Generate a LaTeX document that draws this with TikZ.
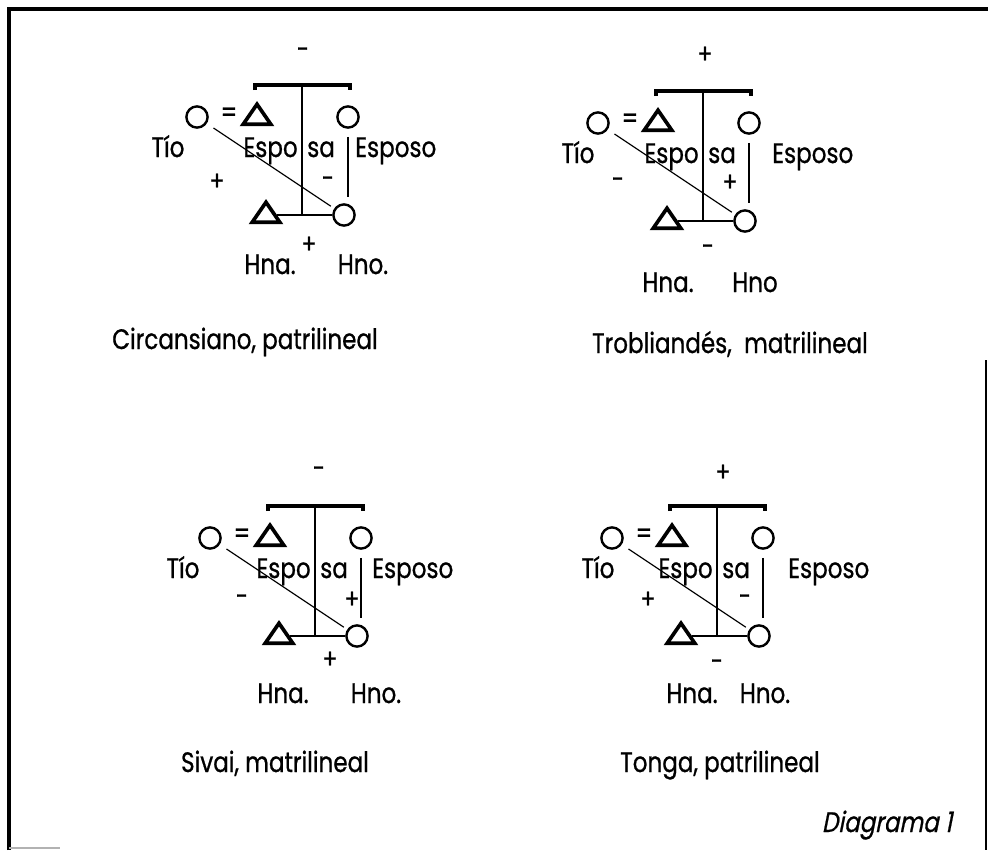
\documentclass[tikz,border=0pt]{standalone}
\usepackage{fontspec}
\setmainfont[FakeStretch=0.82,FakeBold=0.8]{Poppins}
\newfontfamily\italica[FakeStretch=0.82,FakeSlant=0.2,FakeBold=0.8]{Poppins}
\usetikzlibrary{shapes.geometric}

\tikzset{
  mujer/.style={circle, draw, line width=1.7pt, minimum size=0.53cm, inner sep=0pt},
  varon/.style={isosceles triangle, isosceles triangle stretches, shape border rotate=90,
    draw, line width=2.6pt, minimum width=0.69cm, minimum height=0.5cm, inner sep=0pt},
  texto/.style={font=\fontsize{20}{22}\selectfont, inner sep=0pt, anchor=base},
  signo/.style={font=\fontsize{19}{20}\selectfont, inner sep=0pt},
  corchete/.style={line width=2.2pt},
  linea/.style={line width=1.1pt},
}

% #1 = x de Tío, #2 = borde izquierdo de Esposo
\newcommand{\parentesco}[2]{%
  \coordinate (top) at (0,0);
  \node[mujer] (tio) at (-105,32) {};
  \node[texto] (igual) at (-73,37) {=};
  \node[varon] (esposa) at (-45,32) {};
  \node[mujer] (esposo) at (46,32) {};
  \node[varon] (hna) at (-36,130) {};
  \node[mujer] (hno) at (42,130) {};
  \node[texto] (ltio) at (#1,72) {Tío};
  \node[texto, anchor=base east] (lespo) at (-4,72) {Espo};
  \node[texto, anchor=base west] (lsa) at (5,72) {sa};
  \node[texto, anchor=base west] (lesposo) at (#2,72) {Esposo};
  \draw[corchete] ([xshift=-0.05cm,yshift=-0.13cm]esposa |- top) -- ([xshift=-0.05cm]esposa |- top)
    -- ([xshift=0.05cm]esposo |- top) -- ([xshift=0.05cm,yshift=-0.13cm]esposo |- top);
  \draw[linea] (top) -- (top |- hno);
  \draw[linea] (hna) -- (hno);
  \draw[linea, shorten <=0.2cm, shorten >=0.45cm] (esposo) -- (esposo |- hno);
  \draw[line width=0.8pt, shorten <=0.2cm, shorten >=0.1cm] (tio) -- (hno);
}

\begin{document}
\begin{tikzpicture}[x=0.025cm, y=-0.025cm]
  \useasboundingbox (0,0) rectangle (988,850);
  \draw[line width=2.5pt] (9,850) -- (9,9) -- (988,9);
  \draw[line width=2pt] (986,360) -- (986,850);
  \draw[gray!60, line width=1.5pt] (9,848) -- (60,848);

  % Circansiano
  \begin{scope}[shift={(302,85)}, name prefix=a-]
    \parentesco{-134}{53}
    \node[signo] (s1) at (1,-32) {-};
    \node[signo] (s2) at (-85,97) {+};
    \node[signo] (s3) at (26,97) {-};
    \node[signo] (s4) at (7,160) {+};
    \node[texto] (lhna) at (-32,189) {Hna.};
    \node[texto] (lhno) at (61,189) {Hno.};
    \node[texto] (titulo) at (-57,264) {Circansiano, patrilineal};
  \end{scope}

  % Trobliandés
  \begin{scope}[shift={(703,91)}, name prefix=b-]
    \parentesco{-125}{69}
    \node[signo] (s1) at (2,-36) {+};
    \node[signo] (s2) at (-85,92) {-};
    \node[signo] (s3) at (27,92) {+};
    \node[signo] (s4) at (5,159) {-};
    \node[texto] (lhna) at (-35,201) {Hna.};
    \node[texto] (lhno) at (52,201) {Hno};
    \node[texto] (titulo) at (27,262) {Trobliandés,~ matrilineal};
  \end{scope}

  % Sivai
  \begin{scope}[shift={(315,506)}, name prefix=c-]
    \parentesco{-132}{57}
    \node[signo] (s1) at (4,-34) {-};
    \node[signo] (s2) at (-73,94) {-};
    \node[signo] (s3) at (37,94) {+};
    \node[signo] (s4) at (15,154) {+};
    \node[texto] (lhna) at (-32,197) {Hna.};
    \node[texto] (lhno) at (61,197) {Hno.};
    \node[texto] (titulo) at (-40,266) {Sivai, matrilineal};
  \end{scope}

  % Tonga
  \begin{scope}[shift={(717,506)}, name prefix=d-]
    \parentesco{-119}{71}
    \node[signo] (s1) at (6,-33) {+};
    \node[signo] (s2) at (-69,94) {+};
    \node[signo] (s3) at (28,94) {-};
    \node[signo] (s4) at (0,159) {-};
    \node[texto] (lhna) at (-25,197) {Hna.};
    \node[texto] (lhno) at (48,197) {Hno.};
    \node[texto] (titulo) at (3,266) {Tonga, patrilineal};
  \end{scope}

  \node[texto, font=\italica\fontsize{20}{22}\selectfont] (diagrama) at (887,832) {Diagrama 1};
\end{tikzpicture}
\end{document}
